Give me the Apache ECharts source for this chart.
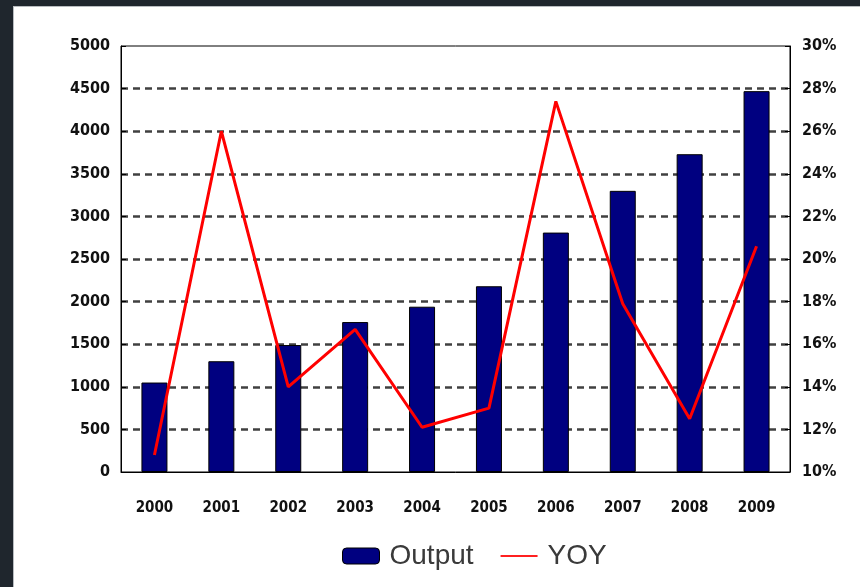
<!DOCTYPE html>
<html>
<head>
<meta charset="utf-8">
<script src="https://cdn.jsdelivr.net/npm/echarts@6/dist/echarts.min.js"></script>
<style>
html,body{margin:0;padding:0;background:#fff;}
#c{width:860px;height:587px;}
</style>
</head>
<body>
<div id="c"></div>
<script>
var years = ['2000','2001','2002','2003','2004','2005','2006','2007','2008','2009'];
var output = [1050, 1300, 1490, 1760, 1940, 2180, 2810, 3300, 3730, 4470];
var yoy = [10.8, 26.0, 14.0, 16.7, 12.1, 13.0, 27.4, 17.9, 12.5, 20.6];

var axisFont = {
  fontFamily: '"DejaVu Sans Condensed", "DejaVu Sans", sans-serif',
  fontWeight: 'bold',
  fontSize: 16,
  color: '#111'
};

var chart = echarts.init(document.getElementById('c'));
chart.setOption({
  animation: false,
  backgroundColor: '#fff',
  graphic: [
    {type: 'rect', shape: {x: 0, y: 0, width: 860, height: 6}, style: {fill: '#1f262d'}, z: 100},
    {type: 'rect', shape: {x: 0, y: 0, width: 13, height: 587}, style: {fill: '#1f262d'}, z: 100},
    {type: 'rect', shape: {x: 13, y: 6, width: 1, height: 581}, style: {fill: '#b8bcc0'}, z: 100},
    {type: 'rect', shape: {x: 13, y: 6, width: 847, height: 1}, style: {fill: '#b8bcc0'}, z: 100}
  ],
  grid: {left: 121, right: 70, top: 46, bottom: 115, show: true, borderColor: '#000', borderWidth: 1, backgroundColor: 'transparent'},
  legend: {
    left: 337, top: 537,
    itemWidth: 37, itemHeight: 16, itemGap: 26,
    textStyle: {fontFamily: '"Liberation Sans", Arial, sans-serif', fontSize: 28, color: '#3a3a3a', padding: [0, 0, 0, 5]},
    data: [
      {name: 'Output', icon: 'roundRect', itemStyle: {color: '#000080', borderColor: '#000', borderWidth: 1}},
      {name: 'YOY', lineStyle: {width: 2, color: '#ff2020'}, itemStyle: {color: 'rgba(0,0,0,0)', borderColor: 'rgba(0,0,0,0)', borderWidth: 0}}
    ]
  },
  xAxis: {
    type: 'category',
    data: years,
    axisLine: {lineStyle: {color: '#000', width: 1}},
    axisTick: {inside: true, length: 5, lineStyle: {color: '#000'}},
    axisLabel: Object.assign({margin: 29}, axisFont, {fontSize: 15})
  },
  yAxis: [
    {
      type: 'value', min: 0, max: 5000, interval: 500,
      axisLine: {show: true, lineStyle: {color: '#000'}},
      axisTick: {show: true, inside: true, length: 5, lineStyle: {color: '#000'}},
      axisLabel: Object.assign({margin: 11, formatter: function (v) { return String(v); }}, axisFont),
      splitLine: {show: true, showMinLine: false, showMaxLine: false, lineStyle: {color: '#404040', width: 2.5, type: [7, 5]}}
    },
    {
      type: 'value', min: 10, max: 30, interval: 2,
      axisLine: {show: true, lineStyle: {color: '#000'}},
      axisTick: {show: true, inside: true, length: 5, lineStyle: {color: '#000'}},
      axisLabel: Object.assign({margin: 12, formatter: function (v) { return v + '%'; }}, axisFont),
      splitLine: {show: false}
    }
  ],
  series: [
    {
      name: 'Output', type: 'bar', data: output, barWidth: 26,
      itemStyle: {color: '#000080', borderColor: '#000', borderWidth: 1}
    },
    {
      name: 'YOY', type: 'line', yAxisIndex: 1, data: yoy, symbol: 'none',
      lineStyle: {color: '#ff0000', width: 3}, itemStyle: {color: '#ff0000'}
    }
  ]
});
</script>
</body>
</html>
